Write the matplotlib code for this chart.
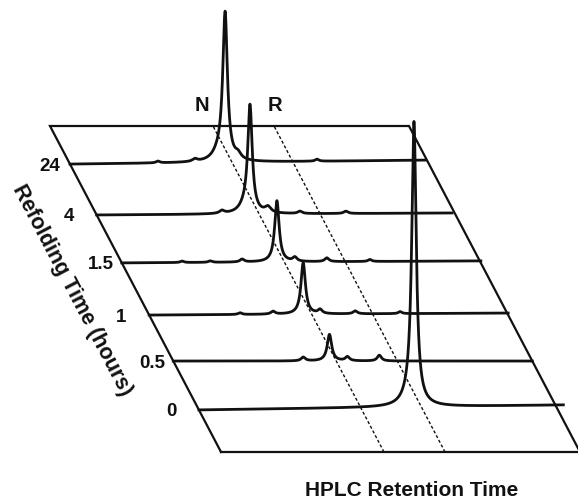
import numpy as np
import matplotlib
matplotlib.use("Agg")
import matplotlib.pyplot as plt
from matplotlib.transforms import Affine2D

plt.rcParams['font.family'] = ['Liberation Sans', 'DejaVu Sans']

# Refolding times, front row first
refold_labels = ["0", "0.5", "1", "1.5", "4", "24"]

# Chromatogram peaks per refolding time:
# (retention position on a 0-1 time axis, relative absorbance, half-width)
peaks_0h = [(0.599, 0.965, 0.0074), (0.588, 0.03, 0.02)]
peaks_05h = [(0.435, 0.092, 0.0075), (0.362, 0.013, 0.007),
             (0.485, 0.014, 0.007), (0.574, 0.020, 0.007)]
peaks_1h = [(0.429, 0.178, 0.0075), (0.253, 0.006, 0.006), (0.345, 0.010, 0.007),
            (0.476, 0.014, 0.007), (0.574, 0.010, 0.007), (0.699, 0.007, 0.006)]
peaks_15h = [(0.432, 0.212, 0.0075), (0.168, 0.005, 0.006), (0.246, 0.005, 0.006),
             (0.335, 0.010, 0.007), (0.482, 0.014, 0.007), (0.571, 0.013, 0.007),
             (0.691, 0.007, 0.006)]
peaks_4h = [(0.427, 0.368, 0.0075), (0.412, 0.020, 0.018), (0.477, 0.020, 0.010),
            (0.349, 0.010, 0.008), (0.566, 0.008, 0.007), (0.694, 0.008, 0.007)]
peaks_24h = [(0.432, 0.508, 0.0078), (0.414, 0.025, 0.020), (0.468, 0.018, 0.010),
             (0.245, 0.006, 0.006), (0.348, 0.009, 0.008), (0.688, 0.007, 0.006)]
all_peaks = [peaks_0h, peaks_05h, peaks_1h, peaks_15h, peaks_4h, peaks_24h]

# Baseline rise across each run (relative absorbance)
baseline_drift = [0.017, 0.0, 0.007, 0.007, 0.007, 0.014]

# Native (N) and reduced (R) retention markers
marker_labels = ["N", "R"]
marker_positions = [0.454, 0.624]

# ---- layout ----
row_depth = [0.129, 0.279, 0.420, 0.580, 0.727, 0.883]
row_end = [1.015, 1.0, 1.0, 1.0, 0.99, 0.99]
label_gap = {1: 28, 2: 20, 3: 21}

fig = plt.figure(figsize=(5.78, 5.0), dpi=100)
ax = fig.add_axes([0, 0, 1, 1])
ax.set_xlim(0, 578)
ax.set_ylim(500, 0)
ax.axis('off')

# oblique floor: u = retention time (0-1), v = depth (0 front, 1 back)
floor_affine = Affine2D(np.array([[359.0, -171.0, 221.0],
                                  [0.0, -326.0, 452.0],
                                  [0.0, 0.0, 1.0]]))
floor = floor_affine + ax.transData
height_px = 289.0

ink = '#111111'

# floor outline
ax.plot([0, 1, 1, 0, 0], [0, 0, 1, 1, 0], transform=floor, color=ink,
        lw=1.6, solid_joinstyle='miter')

# N / R guide lines
for pos in marker_positions:
    ax.plot([pos, pos], [0, 1], transform=floor, color=ink, lw=1.0,
            dashes=(2.2, 1.6))

for lab, pos in zip(marker_labels, marker_positions):
    ax.text(pos + (0.0 if lab == "N" else 0.033), 1.064, lab, transform=floor,
            ha='center', va='center', fontsize=14.5, fontweight='bold', color=ink)


def trace(u, peaks, drift):
    y = drift * u
    for c, h, g in peaks:
        y = y + h * g ** 2 / ((u - c) ** 2 + g ** 2)
    return y


for lab, peaks, v, drift, uend in zip(refold_labels, all_peaks, row_depth,
                                      baseline_drift, row_end):
    x0, y0 = floor_affine.transform((0.0, v))
    row_tr = Affine2D().scale(359.0, -height_px).translate(x0, y0) + ax.transData
    u = np.linspace(0.0, uend, 4000)
    ax.plot(u, trace(u, peaks, drift), transform=row_tr, color=ink, lw=2.0,
            solid_joinstyle='round')
    ax.annotate(lab, xy=(0.0, v), xycoords=floor,
                xytext=(-label_gap[len(lab)], 0), textcoords='offset pixels',
                ha='center', va='center_baseline', fontsize=13.5,
                fontweight='bold', color=ink)

# axis titles
p_top = ax.transData.transform(floor_affine.transform((0, 1)))
p_bot = ax.transData.transform(floor_affine.transform((0, 0)))
edge = p_bot - p_top
angle = np.degrees(np.arctan2(edge[1], edge[0]))
edge_n = edge / np.hypot(*edge)
normal = np.array([-edge_n[1], edge_n[0]])  # points away from the floor
off = -57 * normal
ax.annotate("Refolding Time (hours)", xy=(0.0, 0.577), xycoords=floor,
            xytext=(off[0], off[1]), textcoords='offset pixels',
            rotation=angle, rotation_mode='anchor', ha='center', va='center',
            fontsize=15.5, fontweight='bold', color=ink)

ax.annotate("HPLC Retention Time", xy=(0.53, 0.0), xycoords=floor,
            xytext=(0, -38), textcoords='offset pixels',
            ha='center', va='center', fontsize=15, fontweight='bold', color=ink)

fig.savefig("out.png", dpi=100)
